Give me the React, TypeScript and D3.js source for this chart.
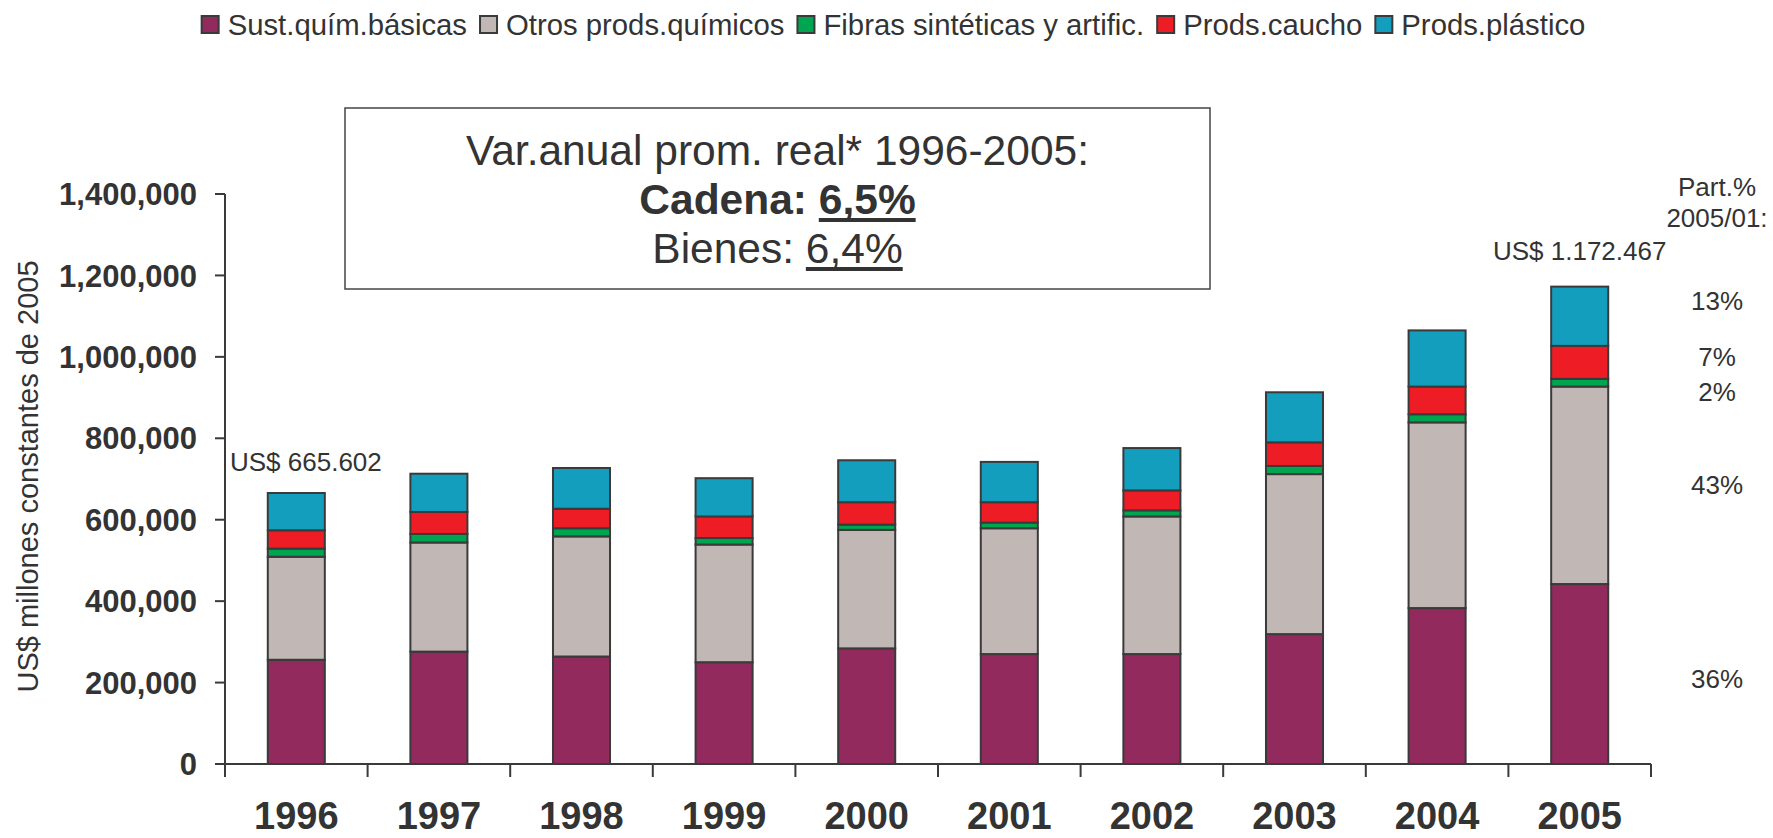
import React, { useEffect, useRef } from "react";
import * as d3 from "d3";

const years = ["1996", "1997", "1998", "1999", "2000", "2001", "2002", "2003", "2004", "2005"];
const seriesNames = ["Sust.quím.básicas", "Otros prods.químicos", "Fibras sintéticas y artific.", "Prods.caucho", "Prods.plástico"];
const seriesColors = ["#922A5E", "#C1B8B5", "#00A54F", "#EE1D25", "#139EBD"];
const sustQuim = [256000, 276000, 264000, 250000, 284000, 270000, 270000, 319000, 383000, 442000];
const otrosQuim = [253000, 268000, 295000, 289000, 291000, 309000, 338000, 393000, 456000, 485000];
const fibras = [20000, 21000, 20000, 16000, 13000, 14000, 15000, 20000, 20000, 19000];
const caucho = [45000, 54000, 48000, 53000, 55000, 50000, 49000, 58000, 68000, 81000];
const plastico = [91600, 94000, 100000, 94000, 103000, 99000, 104000, 123000, 138000, 145500];
const yTicks = [0, 200000, 400000, 600000, 800000, 1000000, 1200000, 1400000];
const partPct = ["36%", "43%", "2%", "7%", "13%"];
const firstTotalLabel = "US$ 665.602";
const lastTotalLabel = "US$ 1.172.467";

const W = 1773;
const H = 838;
const FONT = "'Liberation Sans', Arial, Helvetica, sans-serif";
const TXT = "#333333";

export default function App() {
  const ref = useRef<SVGSVGElement | null>(null);

  useEffect(() => {
    document.body.style.margin = "0";
    const svg = d3.select(ref.current);
    svg.selectAll("*").remove();

    const x0 = 225, x1 = 1651, yBase = 764, yTop = 194;
    const x = d3.scaleBand<string>().domain(years).range([x0, x1]).padding(0);
    const y = d3.scaleLinear().domain([0, 1400000]).range([yBase, yTop]);
    const barW = x.bandwidth() * 0.4;

    const table = years.map((yr, i) => ({
      year: yr,
      s0: sustQuim[i], s1: otrosQuim[i], s2: fibras[i], s3: caucho[i], s4: plastico[i],
    }));
    const keys = ["s0", "s1", "s2", "s3", "s4"];
    const stacked = d3.stack<any>().keys(keys)(table);

    const g = svg.append("g");

    // bars
    stacked.forEach((layer, li) => {
      g.append("g")
        .selectAll("rect")
        .data(layer)
        .join("rect")
        .attr("x", (d: any) => (x(d.data.year) as number) + x.bandwidth() / 2 - barW / 2)
        .attr("y", (d: any) => y(d[1]))
        .attr("width", barW)
        .attr("height", (d: any) => y(d[0]) - y(d[1]))
        .attr("fill", seriesColors[li])
        .attr("stroke", "#3a3a3a")
        .attr("stroke-width", 2);
    });

    // y axis
    const axisColor = "#3a3a3a";
    g.append("line").attr("x1", x0).attr("x2", x0).attr("y1", y(1400000)).attr("y2", yBase + 13)
      .attr("stroke", axisColor).attr("stroke-width", 2);
    const yt = g.append("g");
    yTicks.forEach((t) => {
      yt.append("line").attr("x1", x0 - 10).attr("x2", x0).attr("y1", y(t)).attr("y2", y(t))
        .attr("stroke", axisColor).attr("stroke-width", 2);
      yt.append("text").attr("x", 197).attr("y", y(t)).attr("dy", "0.36em")
        .attr("text-anchor", "end").attr("font-family", FONT).attr("font-size", 31)
        .attr("font-weight", "bold").attr("fill", TXT).text(d3.format(",")(t));
    });

    // x axis
    g.append("line").attr("x1", x0).attr("x2", x1).attr("y1", yBase).attr("y2", yBase)
      .attr("stroke", axisColor).attr("stroke-width", 2);
    years.forEach((yr) => {
      const bx = (x(yr) as number) + x.bandwidth();
      g.append("line").attr("x1", bx).attr("x2", bx).attr("y1", yBase).attr("y2", yBase + 13)
        .attr("stroke", axisColor).attr("stroke-width", 2);
      g.append("text").attr("x", (x(yr) as number) + x.bandwidth() / 2).attr("y", 829)
        .attr("text-anchor", "middle").attr("font-family", FONT).attr("font-size", 38)
        .attr("font-weight", "bold").attr("fill", TXT).text(yr);
    });

    // y label
    g.append("text").attr("transform", `translate(37.5, 476.5) rotate(-90)`)
      .attr("text-anchor", "middle").attr("font-family", FONT).attr("font-size", 29)
      .attr("fill", TXT).text("US$ millones constantes de 2005");

    // total labels
    const tot0 = d3.sum(keys.map((k) => (table[0] as any)[k]));
    const totN = d3.sum(keys.map((k) => (table[years.length - 1] as any)[k]));
    g.append("text").attr("x", 230).attr("y", y(tot0) - 22).attr("font-family", FONT)
      .attr("font-size", 26).attr("fill", TXT).text(firstTotalLabel);
    g.append("text").attr("x", (x(years[years.length - 1]) as number) + x.bandwidth() / 2)
      .attr("y", y(totN) - 27).attr("text-anchor", "middle").attr("font-family", FONT)
      .attr("font-size", 26).attr("fill", TXT).text(lastTotalLabel);

    // participation labels
    const pctX = 1717;
    g.append("text").attr("x", pctX).attr("y", 196).attr("text-anchor", "middle")
      .attr("font-family", FONT).attr("font-size", 26).attr("fill", TXT).text("Part.%");
    g.append("text").attr("x", pctX).attr("y", 227).attr("text-anchor", "middle")
      .attr("font-family", FONT).attr("font-size", 26).attr("fill", TXT).text("2005/01:");
    const nudges = [5, -1, 9, -6, -16];
    stacked.forEach((layer, li) => {
      const d: any = layer[years.length - 1];
      const mid = (y(d[0]) + y(d[1])) / 2 + nudges[li];
      g.append("text").attr("x", pctX).attr("y", mid).attr("dy", "0.36em")
        .attr("text-anchor", "middle").attr("font-family", FONT).attr("font-size", 26)
        .attr("fill", TXT).text(partPct[li]);
    });

    // annotation box
    const bx0 = 345, by0 = 108, bw = 865, bh = 181;
    g.append("rect").attr("x", bx0).attr("y", by0).attr("width", bw).attr("height", bh)
      .attr("fill", "white").attr("stroke", "#444").attr("stroke-width", 1.5);
    const cx = bx0 + bw / 2;
    g.append("text").attr("x", cx).attr("y", 165).attr("text-anchor", "middle")
      .attr("font-family", FONT).attr("font-size", 42.5).attr("fill", TXT)
      .text("Var.anual prom. real* 1996-2005:");

    const underlined = (yy: number, lead: string, val: string, bold: boolean) => {
      const t = g.append("text").attr("x", cx).attr("y", yy).attr("text-anchor", "middle")
        .attr("font-family", FONT).attr("font-size", 42.5)
        .attr("font-weight", bold ? "bold" : "normal").attr("fill", TXT)
        .text(lead + val);
      const node = t.node() as SVGTextElement;
      const startIdx = lead.length;
      const endIdx = lead.length + val.length - 1;
      const sx = node.getStartPositionOfChar(startIdx).x;
      const ex = node.getEndPositionOfChar(endIdx).x;
      g.append("line").attr("x1", sx).attr("x2", ex).attr("y1", yy + 6).attr("y2", yy + 6)
        .attr("stroke", TXT).attr("stroke-width", 4);
    };
    underlined(214, "Cadena: ", "6,5%", true);
    underlined(263, "Bienes: ", "6,4%", false);

    // legend
    const lg = g.append("g");
    const sq = 17, gap1 = 9, gap2 = 13;
    let cursor = 0;
    const items: { sx: number; tx: number }[] = [];
    const texts: any[] = [];
    seriesNames.forEach((name) => {
      const t = lg.append("text").attr("y", 35).attr("font-family", FONT).attr("font-size", 29.3)
        .attr("fill", TXT).text(name);
      const len = (t.node() as SVGTextElement).getComputedTextLength();
      items.push({ sx: cursor, tx: cursor + sq + gap1 });
      texts.push(t);
      cursor += sq + gap1 + len + gap2;
    });
    const total = cursor - gap2;
    const offset = 893.5 - total / 2;
    seriesNames.forEach((_, i) => {
      lg.append("rect").attr("x", offset + items[i].sx).attr("y", 16).attr("width", sq).attr("height", sq)
        .attr("fill", seriesColors[i]).attr("stroke", "#3a3a3a").attr("stroke-width", 2);
      texts[i].attr("x", offset + items[i].tx);
    });
  }, []);

  return <svg ref={ref} width={W} height={H} style={{ display: "block", background: "white" }} />;
}
